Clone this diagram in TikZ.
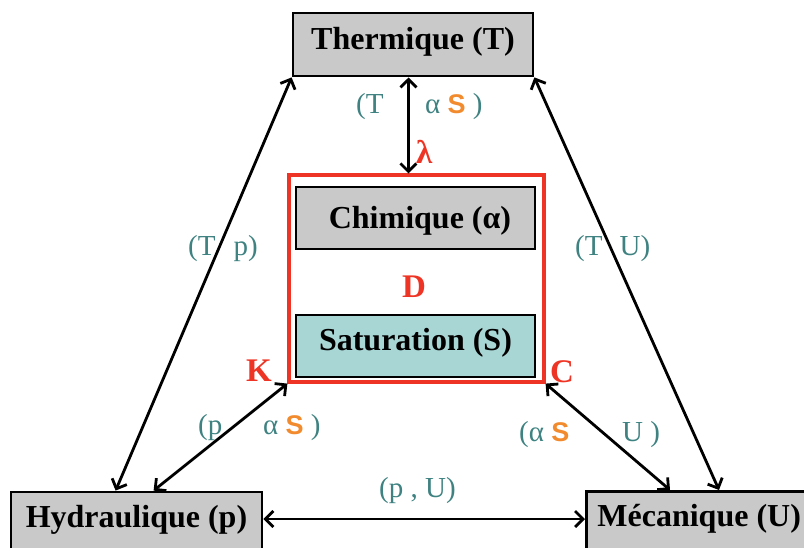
\documentclass[tikz,border=0pt]{standalone}
\usepackage{fontspec}
\setmainfont{Liberation Serif}
\newfontfamily\sansf{Liberation Sans}
\usetikzlibrary{arrows.meta,calc}
\definecolor{boxgray}{RGB}{201,201,201}
\definecolor{satfill}{RGB}{168,214,213}
\definecolor{lblc}{RGB}{62,130,129}
\definecolor{orangec}{RGB}{242,138,46}
\definecolor{redc}{RGB}{238,52,36}
\newcommand{\oS}{\textcolor{orangec}{\sansf\bfseries\fontsize{27}{30}\selectfont S}}
\begin{document}
\begin{tikzpicture}[x=1pt,y=-1pt,
  box/.style={draw=black,line width=2.8pt,fill=boxgray,inner sep=0pt,
    font=\fontsize{32}{36}\selectfont\bfseries,text height=22pt,text depth=13pt},
  link/.style={line width=2.8pt,{Straight Barb[length=8pt,width=16pt]}-{Straight Barb[length=8pt,width=16pt]}},
  lbl/.style={text=lblc,font=\fontsize{29}{32}\selectfont,inner sep=0pt,anchor=base west},
  redl/.style={text=redc,font=\fontsize{33}{36}\selectfont\bfseries,inner sep=0pt,anchor=base west}]
\clip (0,0) rectangle (804,547);
% boxes
\node[box,minimum width=240pt,minimum height=63pt] (th) at (413,44.5) {Thermique (T)};
\node[box,minimum width=251pt,minimum height=61pt] (hyd) at (136.5,522.5) {Hydraulique (p)};
\node[box,anchor=north west,minimum height=61pt,inner xsep=11pt] (mec) at (585,490) {Mécanique (U)};
\node[draw=redc,line width=3.2pt,minimum width=255pt,minimum height=207pt,inner sep=0pt] (sys) at (416.5,278.5) {};
\node[box,minimum width=239pt,minimum height=62pt,text depth=2pt] (chi) at (415.5,218) {\hspace{9pt}Chimique (α)};
\node[box,fill=satfill,minimum width=239pt,minimum height=62pt] (sat) at (415.5,346) {Saturation (S)};
% red letters
\node[redl] (lam) at (416,163) {λ};
\node[redl] (dd) at (402,297) {D};
\node[redl] (kk) at (246,381) {K};
\node[redl] (cc) at (550,382) {C};
% connectors
\draw[link] (th.south west) -- ($(hyd.north west)+(106,0)$);
\draw[link] (th.south east) -- ($(mec.north west)+(134,0)$);
\draw[link] ($(th.south west)+(117,0)$) -- ($(sys.north west)+(121,0)$);
\draw[link] (sys.south west) -- ($(hyd.north west)+(144,0)$);
\draw[link] (sys.south east) -- ($(mec.north west)+(85,0)$);
\coordinate (hr) at ($(hyd.east)+(0,-3.5)$);
\draw[link] (hr) -- (hr -| mec.west);
% labels
\node[lbl] (l1) at (356,113) {(T};
\node[lbl] (l2) at (425,113) {α \oS\ )};
\node[lbl] (l3) at (188,255) {(T\hspace{18pt}p)};
\node[lbl] (l4) at (575,255) {(T\hspace{17pt}U)};
\node[lbl] (l5) at (198,434) {(p};
\node[lbl] (l6) at (263,434) {α \oS\ )};
\node[lbl] (l7) at (519,441) {(α \oS};
\node[lbl] (l8) at (622,441) {U )};
\node[lbl] (l9) at (379,497) {(p , U)};
\end{tikzpicture}
\end{document}
